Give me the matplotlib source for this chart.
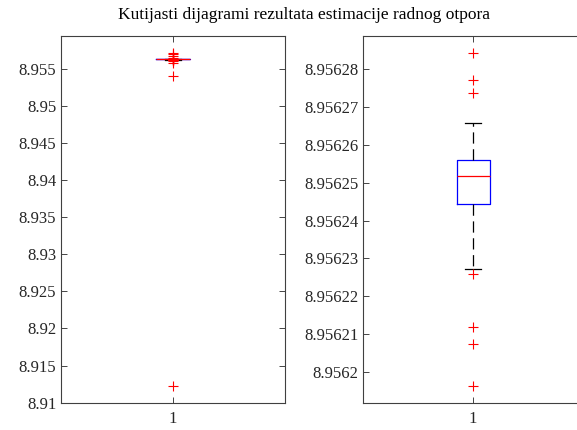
import numpy as np
import matplotlib
matplotlib.use("Agg")
import matplotlib.pyplot as plt
from matplotlib.ticker import MultipleLocator, FuncFormatter

plt.rcParams['font.family'] = ['Liberation Serif', 'DejaVu Serif']

# ==== podaci (očitano sa slike) ==== #
# desni dijagram: bez ekstremnih vrijednosti
q1_r, med_r, q3_r = 8.9562444, 8.9562519, 8.9562559
whislo_r, whishi_r = 8.9562273, 8.9562659
fliers_r = [8.9562844, 8.9562773, 8.9562738,
            8.9562259, 8.9562119, 8.9562073, 8.9561962]

# lijevi dijagram: svi rezultati
q1_l, med_l, q3_l = 8.9562444, 8.9562519, 8.9562559
whislo_l, whishi_l = 8.9562273, 8.9562659
fliers_l = fliers_r + [8.95716, 8.95695, 8.95668, 8.95645,
                       8.95598, 8.95580, 8.95405, 8.91220]

title = "Kutijasti dijagrami rezultata estimacije radnog otpora"

fig = plt.figure(figsize=(5.77, 4.30), dpi=100)
ax_l = fig.add_axes([61/577, 27/430, 224/577, 367/430])
ax_r = fig.add_axes([363/577, 27/430, 220/577, 367/430])


def draw_box(ax, q1, med, q3, lo, hi, fliers):
    stats = [dict(med=med, q1=q1, q3=q3, whislo=lo, whishi=hi,
                  fliers=fliers, label="1")]
    ax.bxp(stats, positions=[1], widths=0.15, capwidths=0.075,
           boxprops=dict(color="blue", linewidth=0.9),
           medianprops=dict(color="red", linewidth=0.9),
           whiskerprops=dict(color="black", linewidth=0.9, linestyle=(0, (9, 4.5))),
           capprops=dict(color="black", linewidth=0.9),
           flierprops=dict(marker="+", markeredgecolor="red", markersize=7,
                           markeredgewidth=0.8, linestyle="none"))
    vals = np.array(fliers + [lo, hi])
    pad = 0.05 * (vals.max() - vals.min())
    ax.set_ylim(vals.min() - pad, vals.max() + pad)
    ax.set_xlim(0.5, 1.5)
    ax.tick_params(direction="in", top=True, right=True, labelsize=12,
                   length=4, width=0.6, colors="#262626", labelcolor="#262626")
    ax.tick_params(axis="x", pad=6)
    for s in ax.spines.values():
        s.set_color("#404040")
        s.set_linewidth(0.8)
    ax.yaxis.set_major_formatter(
        FuncFormatter(lambda v, p: ("%.5f" % v).rstrip("0").rstrip(".")))


draw_box(ax_l, q1_l, med_l, q3_l, whislo_l, whishi_l, fliers_l)
ax_l.yaxis.set_major_locator(MultipleLocator(0.005))

draw_box(ax_r, q1_r, med_r, q3_r, whislo_r, whishi_r, fliers_r)
ax_r.yaxis.set_major_locator(MultipleLocator(1e-5))
# desni rub izlazi izvan slike
ax_r.spines["right"].set_visible(False)
ax_r.tick_params(right=False)

fig.text(304.5/577, 1 - 15/430, title, ha="center", va="center", fontsize=12.5)

fig.savefig("out.png", dpi=100)
